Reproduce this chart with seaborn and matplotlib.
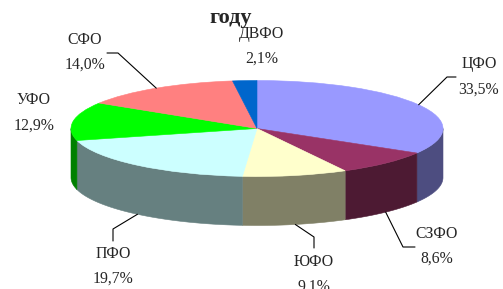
import numpy as np
import matplotlib
matplotlib.use("Agg")
import matplotlib.pyplot as plt
from matplotlib.transforms import Affine2D
import seaborn as sns

# Data: share of federal districts, %
districts = ['ЦФО', 'СЗФО', 'ЮФО', 'ПФО', 'УФО', 'СФО', 'ДВФО']
shares = [33.5, 8.6, 9.1, 19.7, 12.9, 14.0, 2.1]

# Excel-like palette: top faces and darker side walls
top_colors = ['#9999FF', '#993366', '#FFFFCC', '#CCFFFF', '#00FF00', '#FF8080', '#0066CC']
side_colors = ['#4D4D80', '#4D1A33', '#808066', '#668080', '#008000', '#804040', '#003366']

# Label layout (pixel coords): text centre, leader elbow, leader end
label_pos = {
    'ЦФО': (479, 77), 'СЗФО': (437, 246), 'ЮФО': (314, 274), 'ПФО': (113, 266),
    'УФО': (34, 113), 'СФО': (85, 52), 'ДВФО': (262, 46),
}
leaders = {
    'ЦФО': [(447, 77), (456, 77)],
    'СЗФО': [(403, 247), (415, 247)],
    'ЮФО': [(314, 237), (314, 248)],
    'ПФО': [(113, 229), (113, 241)],
    'СФО': [(118, 53), (107, 53)],
}

sns.set_theme(style="white")
plt.rcParams['font.family'] = ['Liberation Serif', 'DejaVu Serif']

W, H = 503, 289
fig = plt.figure(figsize=(W / 100, H / 100), dpi=100)
ax = fig.add_axes([0, 0, 1, 1])

# pie geometry in pixels
cx, cy, rx, ry, depth = 257, 128.5, 186, 48, 49

wedges, _ = ax.pie(shares, startangle=90, counterclock=False, colors=top_colors,
                   wedgeprops=dict(linewidth=0.4), normalize=True)
squash = Affine2D().scale(rx, -ry).translate(cx, cy)
for w, c in zip(wedges, top_colors):
    w.set_edgecolor(c)
    w.set_transform(squash + ax.transData)
    w.set_zorder(3)

# side walls of the front half
for w, c in zip(wedges, side_colors):
    a, b = max(w.theta1, -180), min(w.theta2, 0)
    if a >= b:
        continue
    t = np.radians(np.linspace(a, b, 80))
    xs = cx + rx * np.cos(t)
    ys = cy - ry * np.sin(t)
    ax.fill(np.r_[xs, xs[::-1]], np.r_[ys, ys[::-1] + depth],
            color=c, linewidth=0.4, edgecolor=c, zorder=2)

# labels with leader lines
for w, name, val in zip(wedges, districts, shares):
    tx, ty = label_pos[name]
    ax.text(tx, ty, f"{name}\n{val:.1f}".replace('.', ',') + "%",
            ha='center', va='center', fontsize=11.3, linespacing=1.75, zorder=5)
    if name in leaders:
        mid = np.radians((w.theta1 + w.theta2) / 2)
        sx = cx + rx * np.cos(mid)
        sy = cy - ry * np.sin(mid) + (depth if np.sin(mid) < 0 else 0)
        pts = [(sx, sy)] + leaders[name]
        ax.plot([p[0] for p in pts], [p[1] for p in pts], color='black', lw=0.8, zorder=4)

ax.text(231, 23, "году", ha='center', va='baseline', fontsize=16, fontweight='bold')

ax.set_xlim(0, W)
ax.set_ylim(H, 0)
ax.set_aspect('auto')
ax.axis('off')

fig.savefig('out.png', dpi=100)
